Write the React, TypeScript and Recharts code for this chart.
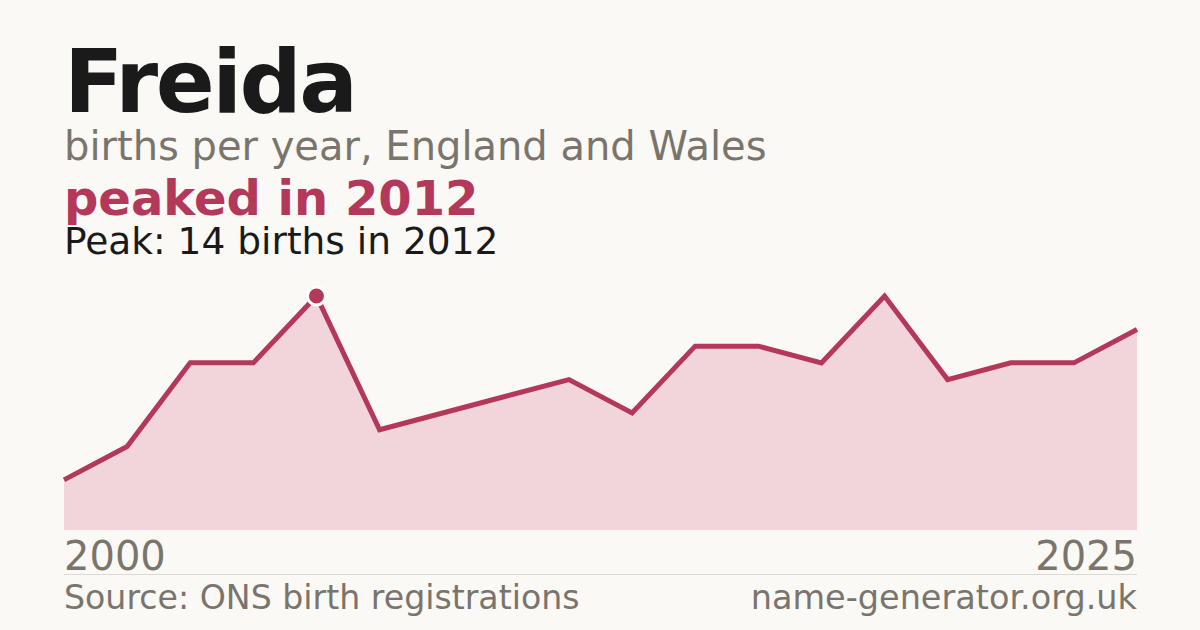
import React from 'react';
import { AreaChart, Area, XAxis, YAxis } from 'recharts';

const years = [2008, 2009, 2010, 2011, 2012, 2013, 2014, 2015, 2016, 2017, 2018, 2019, 2020, 2021, 2022, 2023, 2024, 2025];
const births = [3, 5, 10, 10, 14, 6, 7, 8, 9, 7, 11, 11, 10, 14, 9, 10, 10, 12];
const axisLabels = ['2000', '2025'];

const name = 'Freida';
const subtitle = 'births per year, England and Wales';
const source = 'Source: ONS birth registrations';
const site = 'name-generator.org.uk';

const W = 1200;
const H = 630;
const ACCENT = '#b3385a';
const GREY = '#7a756c';
const FONT = '"DejaVu Sans", sans-serif';

const data = years.map((year, i) => ({ year, births: births[i] }));

const peakValue = Math.max(...births);
const peakIndex = births.indexOf(peakValue);
const peakYear = years[peakIndex];

// only the first peak gets a marker
const PeakDot = (props: any) => {
    const { cx, cy, index } = props;
    if (index !== peakIndex) return <g key={`d-${index}`} />;
    return <circle key={`d-${index}`} cx={cx} cy={cy} r={9} fill={ACCENT} stroke="#ffffff" strokeWidth={3} />;
};

const App: React.FC = () => {
    return (
        <div style={{ position: 'absolute', left: 0, top: 0, width: W, height: H, background: '#faf9f5', fontFamily: FONT }}>
            <AreaChart width={W} height={H} data={data} margin={{ top: 296, right: 63, bottom: 100, left: 64 }}>
                <XAxis dataKey="year" hide />
                <YAxis hide domain={[0, peakValue]} />
                <Area
                    type="linear"
                    dataKey="births"
                    stroke={ACCENT}
                    strokeWidth={5}
                    fill="#f2d5da"
                    fillOpacity={1}
                    dot={PeakDot}
                    activeDot={false}
                    isAnimationActive={false}
                />
            </AreaChart>
            <svg width={W} height={H} style={{ position: 'absolute', left: 0, top: 0, pointerEvents: 'none' }}>
                <text x={64} y={112} fontSize={87} fontWeight="bold" fill="#1a1a1a" letterSpacing={-2.5}>{name}</text>
                <text x={64} y={160} fontSize={40} fill={GREY}>{subtitle}</text>
                <text x={64} y={215} fontSize={48} fontWeight="bold" fill={ACCENT}>{`peaked in ${peakYear}`}</text>
                <text x={64} y={254} fontSize={37.5} fill="#1a1a1a">{`Peak: ${peakValue} births in ${peakYear}`}</text>
                <text x={64} y={570} fontSize={40} fill={GREY}>{axisLabels[0]}</text>
                <text x={1137} y={570} fontSize={40} fill={GREY} textAnchor="end">{axisLabels[1]}</text>
                <line x1={64} x2={1137} y1={574.5} y2={574.5} stroke="#dcd9d2" strokeWidth={1} />
                <text x={64} y={609} fontSize={33.2} fill={GREY}>{source}</text>
                <text x={1137} y={609} fontSize={33.5} fill={GREY} textAnchor="end">{site}</text>
            </svg>
        </div>
    );
};

export default App;
